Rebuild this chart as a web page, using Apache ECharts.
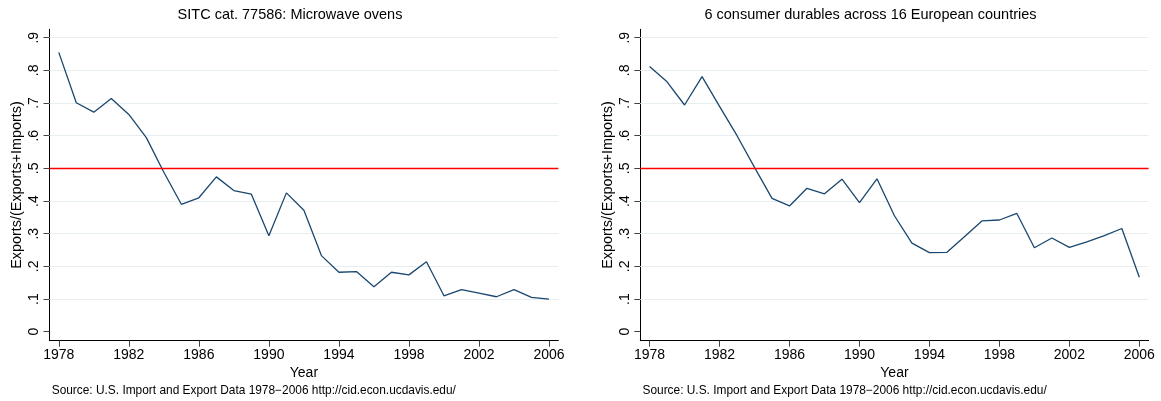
<!DOCTYPE html>
<html><head><meta charset="utf-8">
<script src="https://cdn.jsdelivr.net/npm/echarts/dist/echarts.min.js"></script>
<style>html,body{margin:0;padding:0;background:#fff}#c{width:1161px;height:401px}</style>
</head><body><div id="c"></div>
<script>
const years = [1978,1979,1980,1981,1982,1983,1984,1985,1986,1987,1988,1989,1990,1991,1992,1993,1994,1995,1996,1997,1998,1999,2000,2001,2002,2003,2004,2005,2006];
const microwaveShare = [0.855,0.701,0.672,0.714,0.665,0.594,0.488,0.390,0.410,0.474,0.432,0.421,0.294,0.425,0.372,0.233,0.182,0.184,0.138,0.182,0.174,0.214,0.110,0.129,0.118,0.107,0.129,0.105,0.100];
const durablesShare = [0.812,0.765,0.694,0.781,0.690,0.600,0.503,0.408,0.385,0.439,0.422,0.467,0.395,0.468,0.355,0.271,0.242,0.243,0.291,0.339,0.342,0.362,0.257,0.287,0.258,0.275,0.294,0.316,0.167];
const xTickValues = [1978,1982,1986,1990,1994,1998,2002,2006];
const yTickValues = [0,0.1,0.2,0.3,0.4,0.5,0.6,0.7,0.8,0.9];
const yTickLabels = ['0','.1','.2','.3','.4','.5','.6','.7','.8','.9'];
const gridValues = [0.1,0.2,0.3,0.4,0.6,0.7,0.8,0.9];
const threshold = 0.5;
const panelTitles = ['SITC cat. 77586: Microwave ovens','6 consumer durables across 16 European countries'];
const yAxisTitle = 'Exports/(Exports+Imports)';
const xAxisTitle = 'Year';
const sourceNote = 'Source: U.S. Import and Export Data 1978\u22122006 http://cid.econ.ucdavis.edu/';

const FONT = 'Liberation Sans, Arial, Helvetica, sans-serif';
const chart = echarts.init(document.getElementById('c'), null, {renderer:'canvas'});
const panels = [microwaveShare, durablesShare];
const grids = [
  {left:49.5, top:29.3, width:508.8, height:311.4},
  {left:640.3, top:29.3, width:508.3, height:311.4}
];
const titleCenters = [290, 870.5];

function yLabel(v){
  for (let i=0;i<yTickValues.length;i++) if (Math.abs(yTickValues[i]-v)<1e-6) return yTickLabels[i];
  return '';
}

const gridSeries = grids.map((g,i)=>({
  type:'line', xAxisIndex:i, yAxisIndex:i, symbol:'none', data:[], z:1, silent:true,
  markLine:{
    silent:true, z:1, symbol:['none','none'], label:{show:false}, animation:false,
    data: gridValues.map(v=>({yAxis:v})),
    lineStyle:{color:'#e7eef0', width:1, type:'solid'}
  }
}));

const dataSeries = panels.map((vals,i)=>({
  type:'line', xAxisIndex:i, yAxisIndex:i, symbol:'none', z:3,
  data: years.map((y,k)=>[y, vals[k]]),
  lineStyle:{color:'#1a476f', width:1.3},
  markLine:{
    silent:true, z:4, symbol:['none','none'], label:{show:false}, animation:false,
    data:[{yAxis:threshold}],
    lineStyle:{color:'#ff0000', width:1.3, type:'solid'}
  }
}));

const option = {
  animation:false,
  backgroundColor:'#fff',
  textStyle:{fontFamily:FONT},
  title: panelTitles.map((t,i)=>({
    text:t, left:titleCenters[i], top:7, textAlign:'center', padding:0,
    textStyle:{fontFamily:FONT, fontSize:14.5, fontWeight:'normal', color:'#000'}
  })).concat(grids.map(g=>({
    text:sourceNote, left:g.left+2.2, top:385, padding:0,
    textStyle:{fontFamily:FONT, fontSize:11.9, fontWeight:'normal', color:'#000'}
  }))),
  grid: grids.map(g=>Object.assign({containLabel:false}, g)),
  xAxis: grids.map((g,i)=>({
    type:'value', gridIndex:i, min:1977.47, max:2006.53,
    name:xAxisTitle, nameLocation:'middle', nameGap:22,
    nameTextStyle:{fontFamily:FONT, fontSize:14, color:'#000'},
    axisLine:{show:true, onZero:false, lineStyle:{color:'#000', width:1}},
    axisTick:{show:true, customValues:xTickValues, length:6, lineStyle:{color:'#444', width:1}},
    axisLabel:{customValues:xTickValues, margin:7, fontFamily:FONT, fontSize:14, color:'#000', formatter:v=>String(v)},
    splitLine:{show:false}
  })),
  yAxis: grids.map((g,i)=>({
    type:'value', gridIndex:i, min:-0.0275, max:0.9257,
    name:yAxisTitle, nameLocation:'middle', nameRotate:90, nameGap:25,
    nameTextStyle:{fontFamily:FONT, fontSize:14.4, color:'#000'},
    axisLine:{show:true, onZero:false, lineStyle:{color:'#000', width:1}},
    axisTick:{show:true, customValues:yTickValues, length:6, lineStyle:{color:'#444', width:1}},
    axisLabel:{customValues:yTickValues, rotate:90, margin:8, fontFamily:FONT, fontSize:14, color:'#000', formatter:yLabel},
    splitLine:{show:false}
  })),
  series: gridSeries.concat(dataSeries)
};
chart.setOption(option);
</script></body></html>
